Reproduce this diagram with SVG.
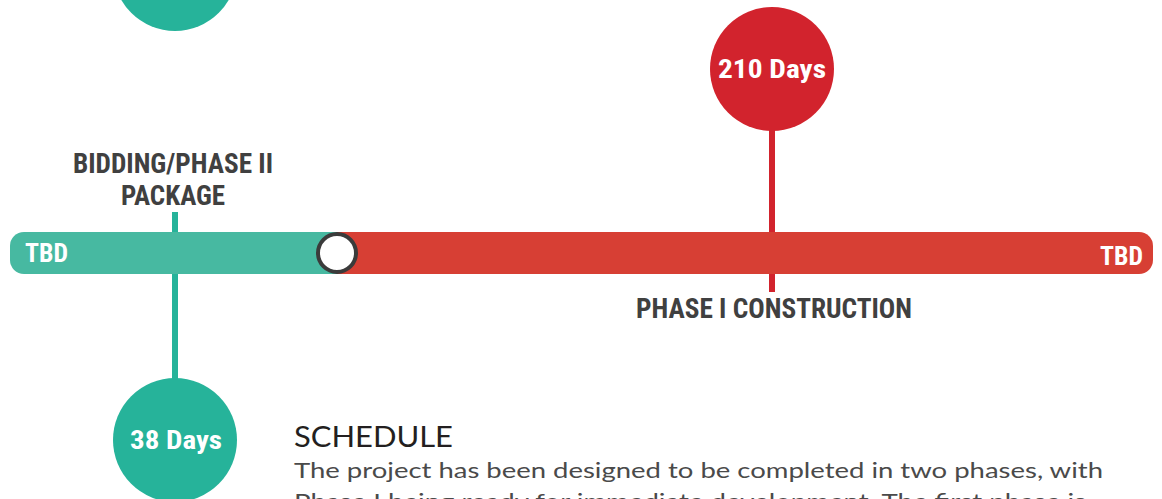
<svg xmlns="http://www.w3.org/2000/svg" width="1162" height="499" viewBox="0 0 1162 499">
<style>
.cond{font-family:"Roboto Condensed","Liberation Sans Narrow","DejaVu Sans Condensed","Roboto",sans-serif;font-stretch:condensed;font-weight:bold}
.lbl{fill:#404040;font-size:27px}
.wt{fill:#ffffff;font-size:25px}
.body{font-family:"Lato","Noto Sans","Liberation Sans",sans-serif}
</style>
<rect width="1162" height="499" fill="#ffffff"/>
<g id="connectors">
<line x1="175" y1="212" x2="175" y2="380" stroke="#26b39a" stroke-width="6"/>
<line x1="772" y1="128" x2="772" y2="292" stroke="#d2232d" stroke-width="6"/>
</g>
<g id="bar">
<path d="M24 232 H340 V274 H24 A14 14 0 0 1 10 260 V246 A14 14 0 0 1 24 232 Z" fill="#47b9a1"/>
<path d="M337 232 H1139 A14 14 0 0 1 1153 246 V260 A14 14 0 0 1 1139 274 H337 Z" fill="#d73f34"/>
<text class="cond wt" x="25" y="262" textLength="43" lengthAdjust="spacingAndGlyphs">TBD</text>
<text class="cond wt" x="1100" y="265" textLength="43" lengthAdjust="spacingAndGlyphs">TBD</text>
</g>
<g id="node-split">
<circle cx="337" cy="253" r="19" fill="#ffffff" stroke="#3b3b3b" stroke-width="4"/>
</g>
<g id="node-top-circle">
<circle cx="175" cy="-31" r="62" fill="#26b39a"/>
</g>
<g id="node-bidding">
<text class="cond lbl" x="173" y="173" text-anchor="middle" textLength="200" lengthAdjust="spacingAndGlyphs">BIDDING/PHASE II</text>
<text class="cond lbl" x="173" y="205" text-anchor="middle" textLength="104" lengthAdjust="spacingAndGlyphs">PACKAGE</text>
</g>
<g id="node-38">
<circle cx="175" cy="440" r="62" fill="#26b39a"/>
<text class="cond wt" x="176" y="449" text-anchor="middle" textLength="92" lengthAdjust="spacingAndGlyphs">38 Days</text>
</g>
<g id="node-210">
<circle cx="772" cy="69" r="62" fill="#d2232d"/>
<text class="cond wt" x="772" y="78" text-anchor="middle" textLength="108" lengthAdjust="spacingAndGlyphs">210 Days</text>
</g>
<g id="node-phase1">
<text class="cond lbl" x="774" y="318" text-anchor="middle" textLength="276" lengthAdjust="spacingAndGlyphs">PHASE I CONSTRUCTION</text>
</g>
<g id="schedule">
<text class="body" x="294" y="447" font-size="28" fill="#231f20" textLength="159" lengthAdjust="spacingAndGlyphs">SCHEDULE</text>
<text class="body" x="294" y="478" font-size="22" fill="#4a4a4a" textLength="809" lengthAdjust="spacingAndGlyphs">The project has been designed to be completed in two phases, with</text>
<text class="body" x="294" y="509" font-size="22" fill="#4a4a4a" textLength="792" lengthAdjust="spacingAndGlyphs">Phase I being ready for immediate development. The first phase is</text>
</g>
</svg>
